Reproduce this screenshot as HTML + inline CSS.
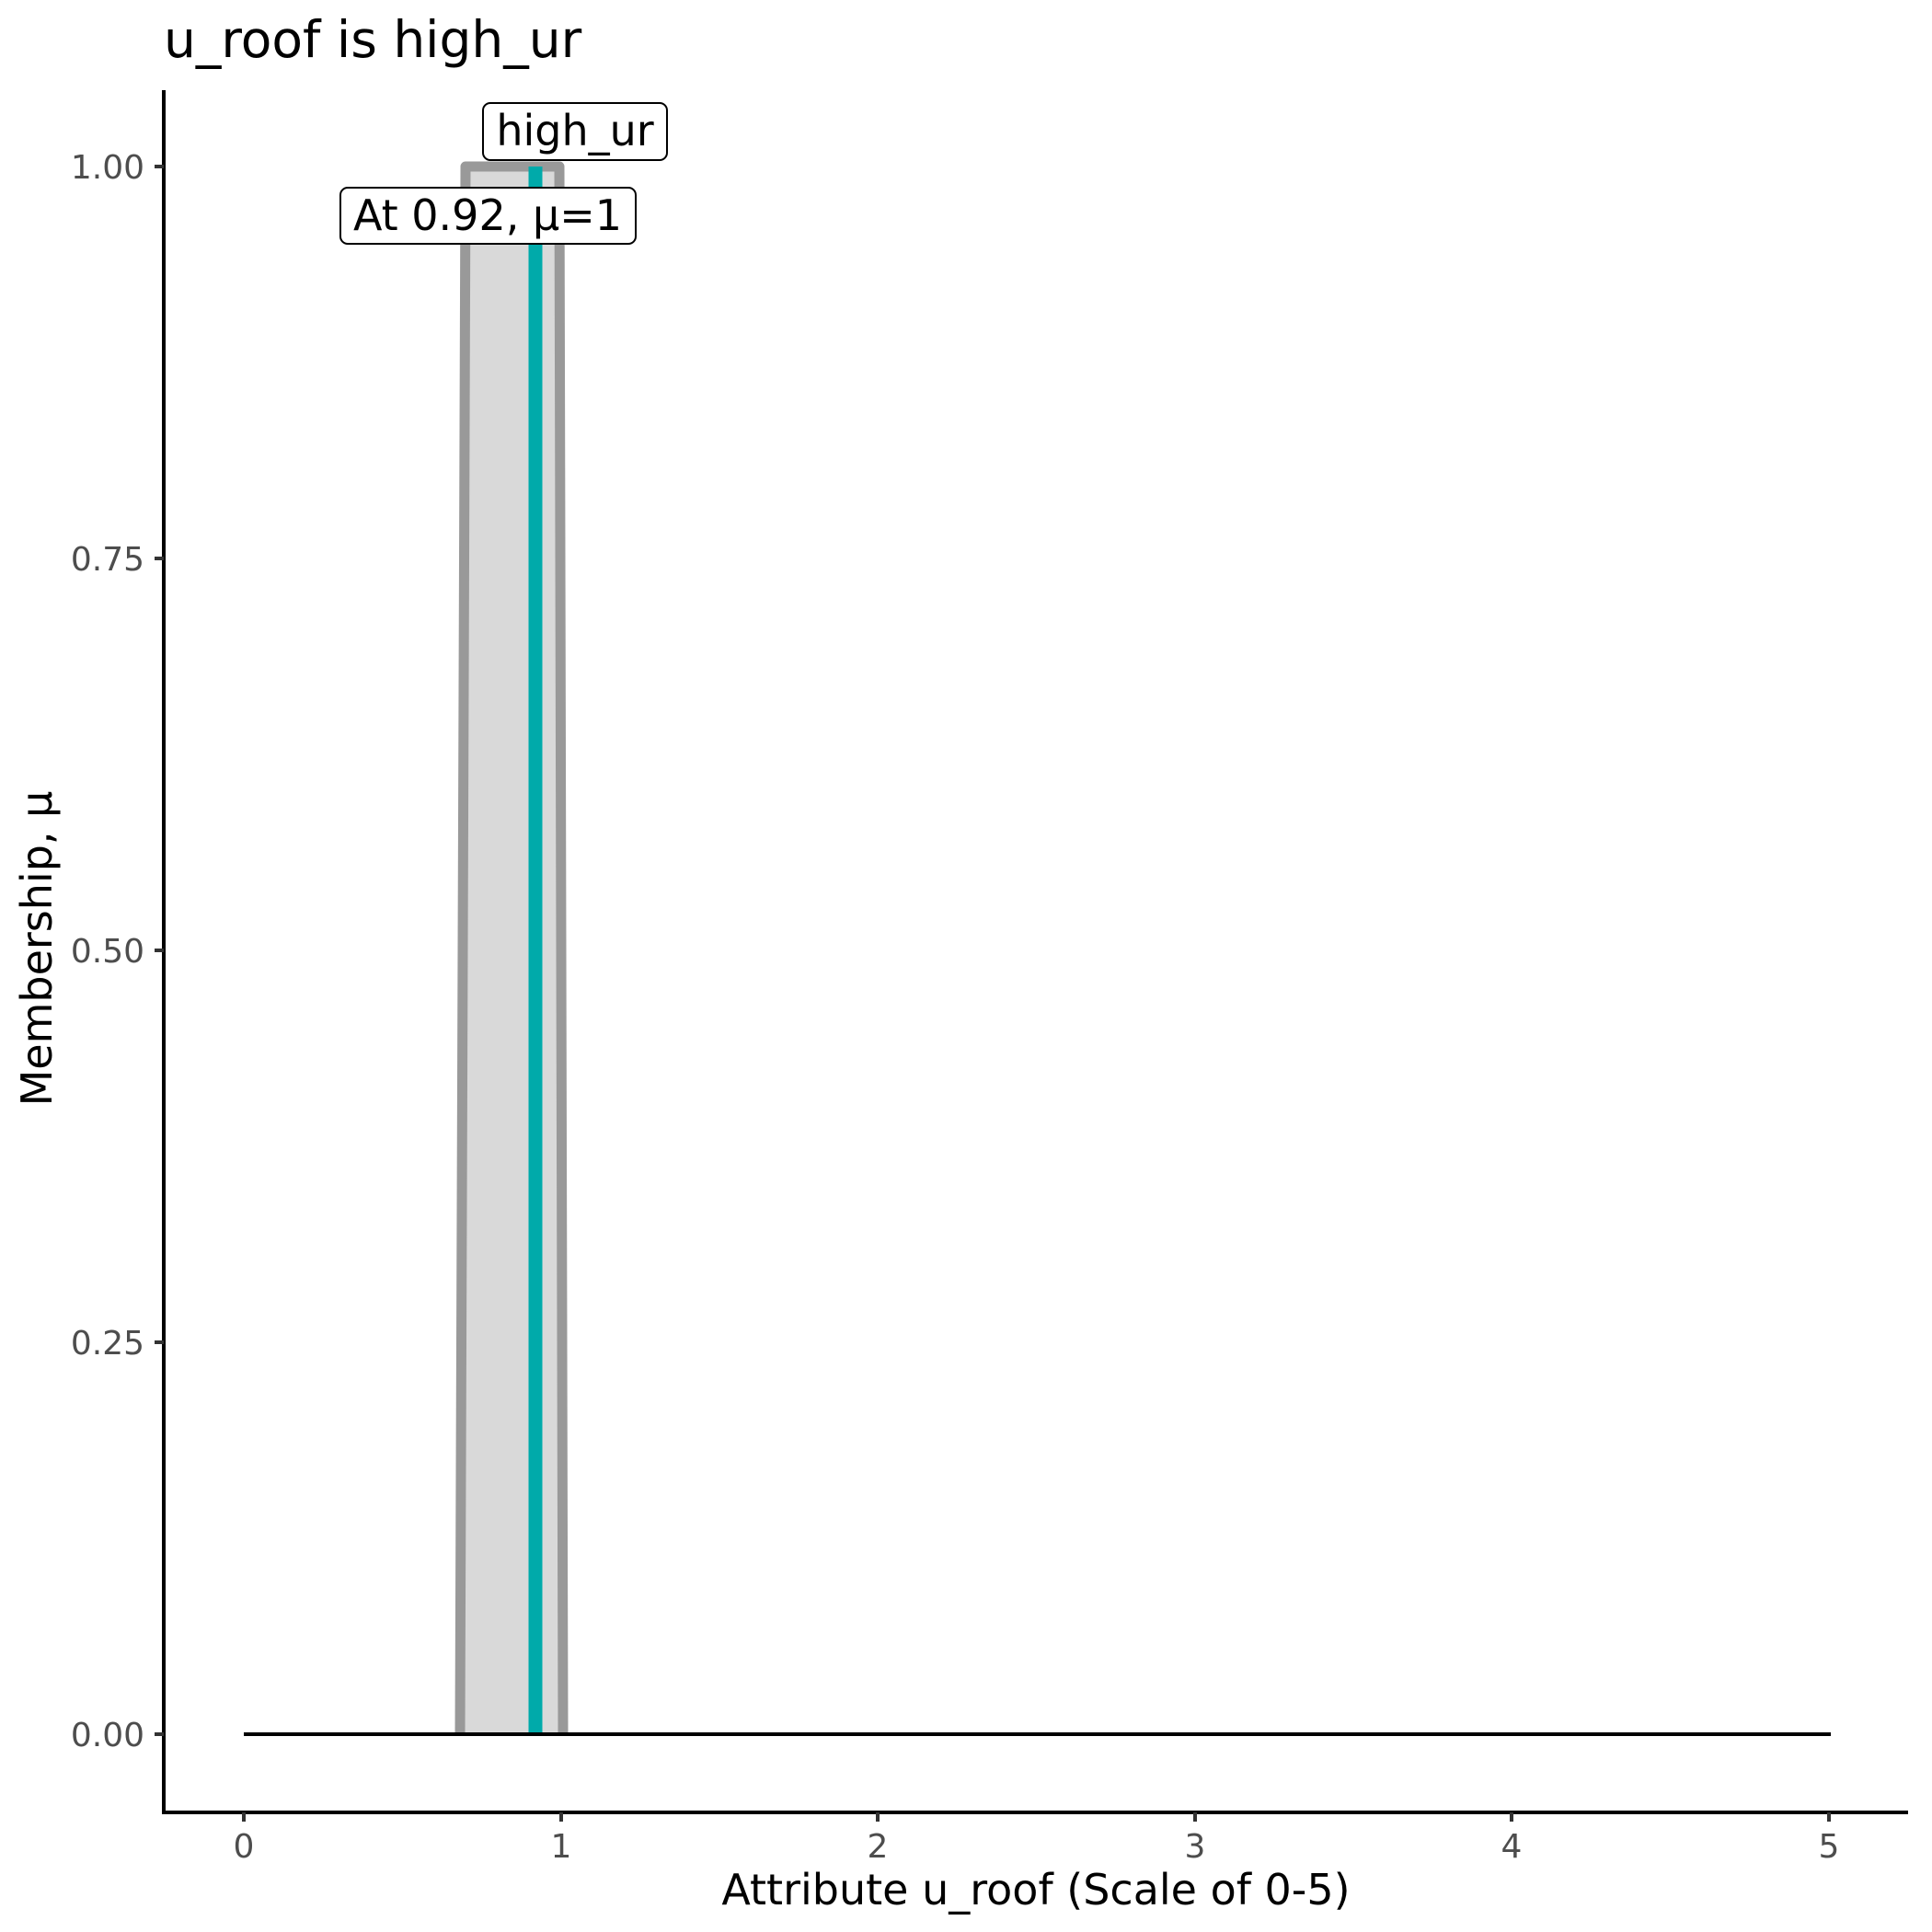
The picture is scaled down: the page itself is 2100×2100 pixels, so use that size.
<!DOCTYPE html>
<html><head><meta charset="utf-8"><style>body{margin:0;background:#fff}svg{display:block}</style></head><body>
<svg width="2100" height="2100" viewBox="0 0 2100 2100" xmlns="http://www.w3.org/2000/svg" font-family="DejaVu Sans, Liberation Sans, sans-serif">
<rect width="2100" height="2100" fill="#fff"/>
<text x="178" y="62" font-size="55" fill="#000">u_roof is high_ur</text>
<polygon points="500,1885 506,181 608,181 612,1885" fill="#d9d9d9"/>
<polyline points="500,1885 506,181 608,181 612,1885" fill="none" stroke="#999" stroke-width="11" stroke-linejoin="round"/>
<line x1="582" y1="181" x2="582" y2="1885" stroke="#00AAAA" stroke-width="15"/>
<line x1="265" y1="1885" x2="1990" y2="1885" stroke="#000" stroke-width="4"/>
<line x1="178" y1="98" x2="178" y2="1972" stroke="#000" stroke-width="4"/>
<line x1="176" y1="1970" x2="2074" y2="1970" stroke="#000" stroke-width="4"/>
<g stroke="#333" stroke-width="4">
<line x1="168" y1="181" x2="178" y2="181"/><line x1="168" y1="607" x2="178" y2="607"/><line x1="168" y1="1033" x2="178" y2="1033"/><line x1="168" y1="1459" x2="178" y2="1459"/><line x1="168" y1="1885" x2="178" y2="1885"/>
<line x1="265" y1="1970" x2="265" y2="1980"/><line x1="610" y1="1970" x2="610" y2="1980"/><line x1="954" y1="1970" x2="954" y2="1980"/><line x1="1299" y1="1970" x2="1299" y2="1980"/><line x1="1643" y1="1970" x2="1643" y2="1980"/><line x1="1988" y1="1970" x2="1988" y2="1980"/>
</g>
<g font-size="36" fill="#4d4d4d" text-anchor="end">
<text x="157" y="194">1.00</text><text x="157" y="620">0.75</text><text x="157" y="1046">0.50</text><text x="157" y="1472">0.25</text><text x="157" y="1898">0.00</text>
</g>
<g font-size="36" fill="#4d4d4d" text-anchor="middle">
<text x="265" y="2019">0</text><text x="610" y="2019">1</text><text x="954" y="2019">2</text><text x="1299" y="2019">3</text><text x="1643" y="2019">4</text><text x="1988" y="2019">5</text>
</g>
<text x="1126" y="2070" font-size="46" text-anchor="middle" fill="#000">Attribute u_roof (Scale of 0-5)</text>
<text transform="translate(56,1031) rotate(-90)" font-size="46" text-anchor="middle" fill="#000">Membership, μ</text>
<rect x="525" y="112" width="200" height="62" rx="8" fill="#fff" stroke="#000" stroke-width="2"/>
<text x="625" y="158" font-size="46" text-anchor="middle" fill="#000">high_ur</text>
<rect x="370" y="204" width="321" height="61" rx="8" fill="#fff" stroke="#000" stroke-width="2"/>
<text x="530" y="250" font-size="46" text-anchor="middle" fill="#000">At 0.92, μ=1</text>
</svg>
</body></html>
